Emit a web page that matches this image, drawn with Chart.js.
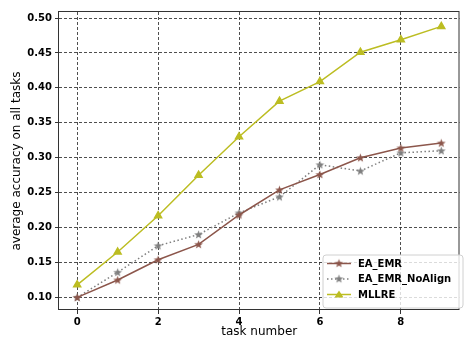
<!DOCTYPE html>
<html>
<head>
<meta charset="utf-8">
<script src="https://cdn.jsdelivr.net/npm/chart.js@4.4.1/dist/chart.umd.min.js"></script>
<style>
  html, body { margin: 0; padding: 0; background: #fff; }
  #wrap { width: 465px; height: 340px; }
</style>
</head>
<body>
<div id="wrap"><canvas id="myChart" width="465" height="340"></canvas></div>
<script>
// data
const tasks = [0, 1, 2, 3, 4, 5, 6, 7, 8, 9];
const eaEmr = [0.100, 0.125, 0.154, 0.176, 0.218, 0.254, 0.276, 0.300, 0.314, 0.321];
const eaEmrNoAlign = [0.100, 0.136, 0.174, 0.190, 0.221, 0.244, 0.290, 0.281, 0.307, 0.310];
const mllre = [0.118, 0.165, 0.217, 0.275, 0.330, 0.381, 0.409, 0.451, 0.469, 0.488];
const xTicks = [0, 2, 4, 6, 8];
const yTicks = [0.10, 0.15, 0.20, 0.25, 0.30, 0.35, 0.40, 0.45, 0.50];

const colors = {
    brown: '#8c564b',
    gray: '#7f7f7f',
    olive: '#bcbd22'
};

function starImage(color) {
    var c = document.createElement('canvas');
    c.width = 11; c.height = 11;
    var g = c.getContext('2d');
    g.fillStyle = color;
    g.beginPath();
    for (var i = 0; i < 10; i++) {
        var r = i % 2 === 0 ? 4.6 : 1.9;
        var a = -Math.PI / 2 + i * Math.PI / 5;
        var px = 5.5 + r * Math.cos(a), py = 5.8 + r * Math.sin(a);
        if (i === 0) g.moveTo(px, py); else g.lineTo(px, py);
    }
    g.closePath();
    g.fill();
    return c;
}

const brownStar = starImage(colors.brown);
const grayStar = starImage(colors.gray);

function toPoints(arr) {
    return arr.map((v, i) => ({ x: tasks[i], y: v }));
}

const frameAndLegend = {
    id: 'frameAndLegend',
    afterDraw(chart) {
        const ctx = chart.ctx;
        const a = chart.chartArea;
        ctx.save();
        ctx.strokeStyle = '#333';
        ctx.lineWidth = 1;
        ctx.strokeRect(Math.round(a.left) - 0.5, Math.round(a.top) - 0.5, a.right - a.left, a.bottom - a.top);

        // legend box, bottom right
        const bx = 323, by = 255, bw = 140, bh = 53, rr = 3;
        ctx.beginPath();
        ctx.moveTo(bx + rr, by);
        ctx.arcTo(bx + bw, by, bx + bw, by + bh, rr);
        ctx.arcTo(bx + bw, by + bh, bx, by + bh, rr);
        ctx.arcTo(bx, by + bh, bx, by, rr);
        ctx.arcTo(bx, by, bx + bw, by, rr);
        ctx.closePath();
        ctx.fillStyle = 'rgba(255,255,255,0.8)';
        ctx.fill();
        ctx.strokeStyle = '#d0d0d0';
        ctx.lineWidth = 1;
        ctx.stroke();

        const rows = [263.5, 279, 294.5];
        chart.data.datasets.forEach((ds, i) => {
            const y = rows[i];
            ctx.beginPath();
            ctx.setLineDash(ds.borderDash || []);
            ctx.strokeStyle = ds.borderColor;
            ctx.lineWidth = ds.borderWidth;
            ctx.moveTo(327, y);
            ctx.lineTo(351, y);
            ctx.stroke();
            ctx.setLineDash([]);
            if (ds.pointStyle === 'triangle') {
                ctx.fillStyle = ds.borderColor;
                ctx.beginPath();
                ctx.moveTo(339, y - 4);
                ctx.lineTo(343.5, y + 3);
                ctx.lineTo(334.5, y + 3);
                ctx.closePath();
                ctx.fill();
            } else {
                ctx.drawImage(ds.pointStyle, 339 - 5.5, y - 5.8);
            }
            ctx.fillStyle = '#000';
            ctx.font = 'bold 10px "DejaVu Sans"';
            ctx.textBaseline = 'middle';
            ctx.textAlign = 'left';
            ctx.fillText(ds.label, 358, y + 0.5);
        });
        ctx.restore();
    }
};

var ctx = document.getElementById('myChart');

var myChart = new Chart(ctx, {
    type: 'line',
    data: {
        datasets: [{
            label: 'EA_EMR',
            data: toPoints(eaEmr),
            borderColor: colors.brown,
            backgroundColor: colors.brown,
            borderWidth: 1.5,
            pointStyle: brownStar,
            pointRadius: 4
        }, {
            label: 'EA_EMR_NoAlign',
            data: toPoints(eaEmrNoAlign),
            borderColor: colors.gray,
            backgroundColor: colors.gray,
            borderWidth: 1.5,
            borderDash: [1.5, 2.5],
            pointStyle: grayStar,
            pointRadius: 4
        }, {
            label: 'MLLRE',
            data: toPoints(mllre),
            borderColor: colors.olive,
            backgroundColor: colors.olive,
            borderWidth: 1.5,
            pointStyle: 'triangle',
            pointRadius: 4
        }]
    },
    options: {
        responsive: false,
        animation: false,
        layout: { padding: { top: 12, right: 1, left: 0, bottom: 0 } },
        plugins: {
            legend: { display: false },
            tooltip: { enabled: false }
        },
        elements: { line: { tension: 0 } },
        scales: {
            x: {
                type: 'linear',
                min: -0.45,
                max: 9.45,
                afterBuildTicks: (s) => { s.ticks = xTicks.map(v => ({ value: v })); },
                afterFit: (s) => { s.height = 30; },
                ticks: {
                    color: '#000',
                    font: { family: 'DejaVu Sans', size: 10, weight: 'bold' },
                    padding: 2,
                    maxRotation: 0,
                    callback: (v) => String(v)
                },
                grid: {
                    color: '#222',
                    lineWidth: 0.8,
                    tickLength: 4,
                    tickColor: '#333',
                    tickWidth: 1,
                    tickBorderDash: []
                },
                border: { display: false, dash: [3, 2] },
                title: {
                    display: true,
                    text: 'task number',
                    color: '#000',
                    font: { family: 'DejaVu Sans', size: 12 },
                    padding: { top: 0, bottom: 1 }
                }
            },
            y: {
                type: 'linear',
                min: 0.082,
                max: 0.5086,
                afterBuildTicks: (s) => { s.ticks = yTicks.map(v => ({ value: v })); },
                afterFit: (s) => { s.width = 59; },
                ticks: {
                    color: '#000',
                    font: { family: 'DejaVu Sans', size: 10, weight: 'bold' },
                    padding: 3,
                    callback: (v) => v.toFixed(2)
                },
                grid: {
                    color: '#222',
                    lineWidth: 0.8,
                    tickLength: 4,
                    tickColor: '#333',
                    tickWidth: 1,
                    tickBorderDash: []
                },
                border: { display: false, dash: [3, 2] },
                title: {
                    display: true,
                    text: 'average accuracy on all tasks',
                    color: '#000',
                    font: { family: 'DejaVu Sans', size: 12 },
                    padding: { top: 10, bottom: 0 }
                }
            }
        }
    },
    plugins: [frameAndLegend]
});
</script>
</body>
</html>
